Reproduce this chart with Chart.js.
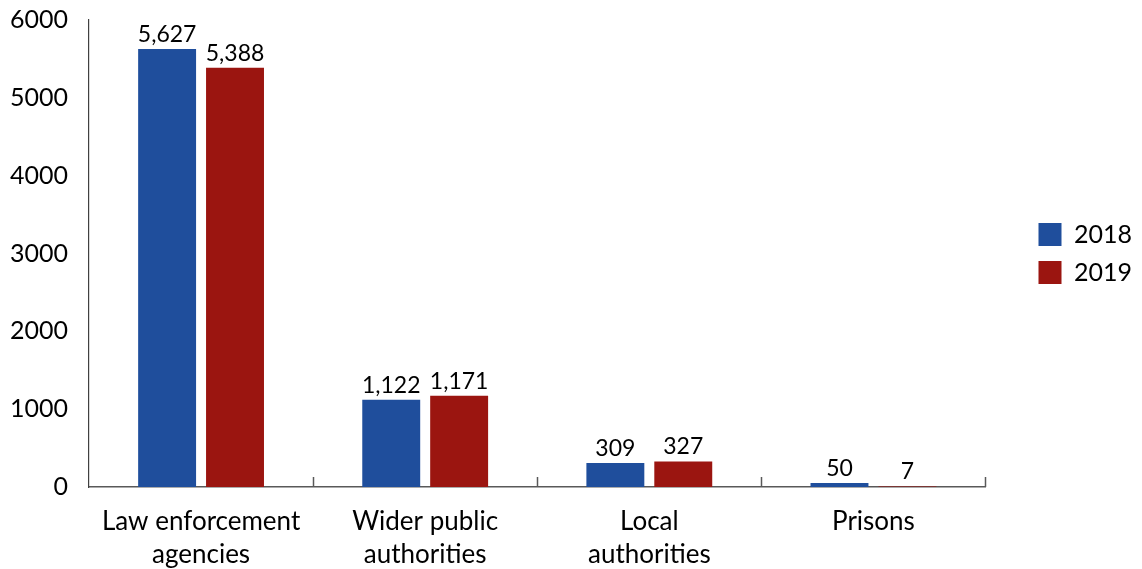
<!DOCTYPE html>
<html><head><meta charset="utf-8">
<script src="https://cdn.jsdelivr.net/npm/chart.js@4"></script>
<style>html,body{margin:0;padding:0;background:#fff}#wrap{width:1142px;height:569px;position:relative}</style>
</head><body><div id="wrap"><canvas id="c"></canvas></div>
<script>
const categories = [["Law enforcement","agencies"],["Wider public","authorities"],["Local","authorities"],"Prisons"];
const seriesNames = ["2018","2019"];
const values2018 = [5627,1122,309,50];
const values2019 = [5388,1171,327,7];
const yMin = 0, yMax = 6000, yStep = 1000;
const colors = ["#1F4E9C","#9B1510"];
const FONT = "Lato, 'Open Sans', sans-serif";

const valueLabels = {
  id: 'valueLabels',
  afterDatasetsDraw(chart) {
    const ctx = chart.ctx;
    ctx.save();
    ctx.font = "23px " + FONT;
    ctx.fillStyle = "#000";
    ctx.textAlign = "center";
    ctx.textBaseline = "bottom";
    chart.data.datasets.forEach((ds, di) => {
      chart.getDatasetMeta(di).data.forEach((el, i) => {
        ctx.fillText(ds.data[i].toLocaleString('en-US'), el.x, el.y - 3);
      });
    });
    ctx.restore();
  }
};
const catTicks = {
  id: 'catTicks',
  afterDraw(chart) {
    const x = chart.scales.x, ctx = chart.ctx;
    const n = chart.data.labels.length;
    ctx.save();
    ctx.strokeStyle = "#595959";
    ctx.lineWidth = 1.5;
    for (let i = 1; i <= n; i++) {
      const px = Math.round(x.left + i * (x.right - x.left) / n) + 0.5;
      ctx.beginPath();
      ctx.moveTo(px, x.top);
      ctx.lineTo(px, x.top - 10);
      ctx.stroke();
    }
    ctx.restore();
  }
};

new Chart(document.getElementById('c'), {
  type: 'bar',
  data: {
    labels: categories,
    datasets: seriesNames.map((name, i) => ({
      label: name,
      data: i === 0 ? values2018 : values2019,
      backgroundColor: colors[i],
      categoryPercentage: 0.606,
      barPercentage: 0.853
    }))
  },
  options: {
    responsive: true,
    maintainAspectRatio: false,
    animation: false,
    layout: { padding: { top: 20, left: 0, right: 0, bottom: 0 } },
    plugins: {
      tooltip: { enabled: false },
      legend: {
        position: 'right',
        fullSize: false,
        labels: {
          boxWidth: 23, boxHeight: 23, padding: 13,
          color: '#000',
          font: { family: FONT, size: 25 }
        }
      }
    },
    scales: {
      x: {
        grid: { display: false, drawTicks: false },
        border: { display: true, color: '#595959', width: 1.5 },
        ticks: { color: '#000', font: { family: FONT, size: 26, lineHeight: 1.27 }, padding: 18, maxRotation: 0 },
        afterFit(scale) { scale.height = 82; scale.paddingTop = 0; scale.paddingBottom = 0; }
      },
      y: {
        min: yMin, max: yMax,
        grid: { display: false, drawTicks: false },
        border: { display: true, color: '#404040', width: 1.2 },
        ticks: { stepSize: yStep, color: '#000', font: { family: FONT, size: 25 }, padding: 21,
                 callback: v => String(v) },
        afterFit(scale) { scale.width = 89; scale.paddingTop = 0; scale.paddingBottom = 0; }
      },
      gap: {
        position: 'right',
        display: true,
        grid: { display: false, drawTicks: false },
        border: { display: false },
        ticks: { display: false },
        afterFit(scale) { scale.width = 40; }
      }
    }
  },
  plugins: [valueLabels, catTicks]
});
</script></body></html>
